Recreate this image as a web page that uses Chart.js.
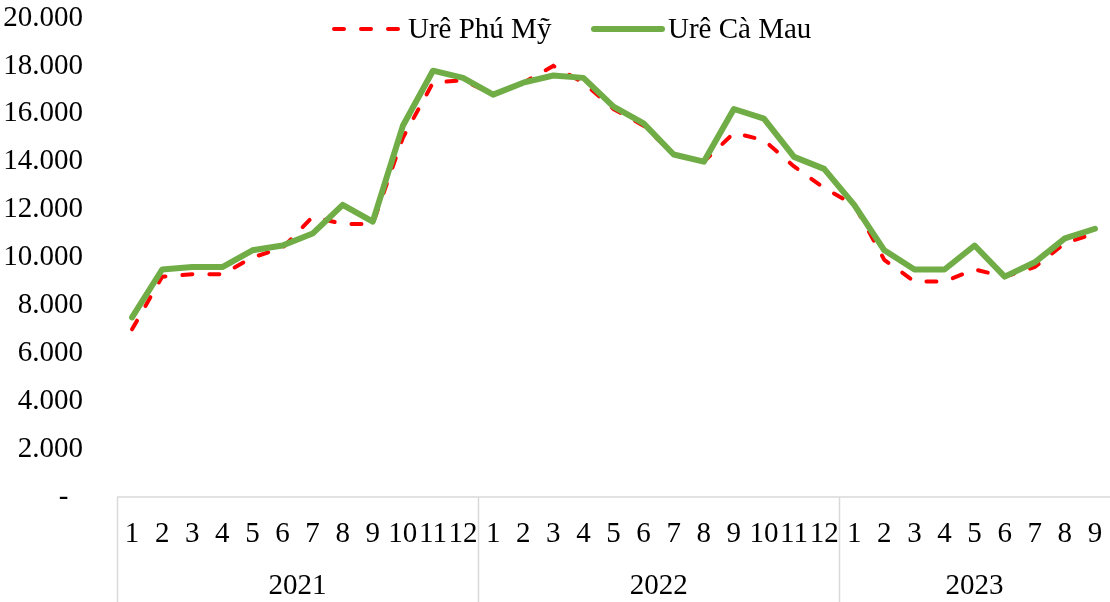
<!DOCTYPE html>
<html>
<head>
<meta charset="utf-8">
<script src="https://cdn.jsdelivr.net/npm/chart.js@4"></script>
<style>
  body { margin: 0; background: #fff; }
  #wrap { width: 1110px; height: 602px; position: relative; }
</style>
</head>
<body>
<div id="wrap"><canvas id="chart"></canvas></div>
<script>
// data
const years = ['2021', '2022', '2023'];
const monthsPerYear = [12, 12, 9];
const months = [
    '1', '2', '3', '4', '5', '6', '7', '8', '9', '10', '11', '12',
    '1', '2', '3', '4', '5', '6', '7', '8', '9', '10', '11', '12',
    '1', '2', '3', '4', '5', '6', '7', '8', '9'
];
const phuMy = [
    7000, 9200, 9300, 9300, 10000, 10400, 11700, 11400, 11400, 15000, 17300, 17400,
    16800, 17300, 18000, 17300, 16200, 15500, 14300, 14000, 15200, 14900, 13800, 12900,
    12200, 9900, 9000, 9000, 9500, 9200, 9600, 10600, 11000
];
const caMau = [
    7500, 9500, 9600, 9600, 10300, 10500, 11000, 12200, 11500, 15500, 17800, 17500,
    16800, 17300, 17600, 17500, 16300, 15600, 14300, 14000, 16200, 15800, 14200, 13700,
    12200, 10300, 9500, 9500, 10500, 9200, 9800, 10800, 11200
];
const yTicks = [0, 2000, 4000, 6000, 8000, 10000, 12000, 14000, 16000, 18000, 20000];

const FONT = 'Liberation Serif, "Times New Roman", serif';
const FONT_SIZE = 29;
const boxColor = '#d9d9d9';

function fmt(v) {
    if (v === 0) return '-  ';
    return v.toString().replace(/\B(?=(\d{3})+(?!\d))/g, '.');
}

// year box under the month labels
const yearAxis = {
    id: 'yearAxis',
    afterDraw(chart) {
        const ctx = chart.ctx;
        const xs = chart.scales.x;
        const top = chart.chartArea.bottom;
        const bottom = chart.height;
        const step = xs.getPixelForValue(1) - xs.getPixelForValue(0);
        ctx.save();
        ctx.strokeStyle = boxColor;
        ctx.lineWidth = 1.5;
        ctx.beginPath();
        ctx.moveTo(xs.left, top);
        ctx.lineTo(xs.right, top);
        ctx.stroke();

        ctx.fillStyle = '#000';
        ctx.font = FONT_SIZE + 'px ' + FONT;
        ctx.textAlign = 'center';
        ctx.textBaseline = 'middle';
        let start = 0;
        years.forEach((yr, i) => {
            const end = start + monthsPerYear[i];
            const x0 = xs.getPixelForValue(start) - step / 2;
            const x1 = xs.getPixelForValue(end - 1) + step / 2;
            ctx.beginPath();
            ctx.moveTo(Math.round(x0) + 0.5, top);
            ctx.lineTo(Math.round(x0) + 0.5, bottom);
            ctx.stroke();
            ctx.fillText(yr, (x0 + x1) / 2, 586);
            start = end;
        });
        ctx.restore();
    }
};

// line legend at the top
const lineLegend = {
    id: 'lineLegend',
    afterDraw(chart) {
        const ctx = chart.ctx;
        const items = [
            { ds: chart.data.datasets[0], x: 332 },
            { ds: chart.data.datasets[1], x: 592 }
        ];
        const y = 29;
        ctx.save();
        items.forEach(it => {
            ctx.strokeStyle = it.ds.borderColor;
            ctx.lineWidth = it.ds.borderWidth;
            ctx.lineCap = it.ds.borderCapStyle || 'butt';
            ctx.setLineDash(it.ds.borderDash || []);
            ctx.beginPath();
            ctx.moveTo(it.x + 2, y);
            ctx.lineTo(it.x + 70, y);
            ctx.stroke();
            ctx.setLineDash([]);
            ctx.fillStyle = '#000';
            ctx.font = FONT_SIZE + 'px ' + FONT;
            ctx.textAlign = 'left';
            ctx.textBaseline = 'middle';
            ctx.fillText(it.ds.label, it.x + 76, y + 1);
        });
        ctx.restore();
    }
};

new Chart(document.getElementById('chart').getContext('2d'), {
    type: 'line',
    data: {
        labels: months,
        datasets: [
            {
                label: 'Urê Phú Mỹ',
                data: phuMy,
                borderColor: '#ff0000',
                borderWidth: 4,
                borderDash: [10, 17],
                borderCapStyle: 'round',
                pointRadius: 0,
                tension: 0,
                order: 1
            },
            {
                label: 'Urê Cà Mau',
                data: caMau,
                borderColor: '#70ad47',
                borderWidth: 6,
                borderCapStyle: 'round',
                borderJoinStyle: 'round',
                pointRadius: 0,
                tension: 0,
                order: 0
            }
        ]
    },
    options: {
        responsive: true,
        maintainAspectRatio: false,
        animation: false,
        layout: { padding: { top: 18, right: 0, left: 0, bottom: 0 } },
        plugins: {
            legend: { display: false },
            tooltip: { enabled: false }
        },
        scales: {
            x: {
                type: 'category',
                offset: true,
                grid: { display: false, drawTicks: false },
                border: { display: false },
                ticks: {
                    color: '#000',
                    font: { family: FONT, size: FONT_SIZE },
                    autoSkip: false,
                    maxRotation: 0,
                    minRotation: 0,
                    padding: 20
                },
                afterFit(scale) {
                    scale.height = 105;
                    scale.paddingLeft = 0;
                    scale.paddingRight = 0;
                }
            },
            y: {
                min: 0,
                max: 20000,
                grid: { display: false, drawTicks: false },
                border: { display: false },
                afterBuildTicks(scale) {
                    scale.ticks = yTicks.map(v => ({ value: v }));
                },
                ticks: {
                    color: '#000',
                    font: { family: FONT, size: FONT_SIZE },
                    padding: 34,
                    callback: v => fmt(v)
                },
                afterFit(scale) {
                    scale.width = 117;
                    scale.paddingTop = 0;
                    scale.paddingBottom = 0;
                }
            }
        }
    },
    plugins: [yearAxis, lineLegend]
});
</script>
</body>
</html>
